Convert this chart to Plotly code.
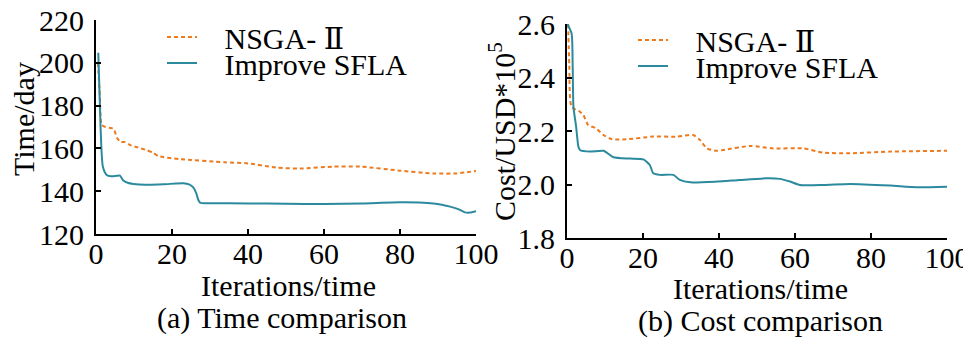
import plotly.graph_objects as go

# ---------------- data ----------------
time_nsga_x = [0.5, 1.0, 1.5, 2.5, 4.0, 4.7, 5.5, 6.5, 7.6, 9, 11, 13.3, 15, 16.4, 22, 34,
               40, 47.5, 53.7, 62.5, 69.5, 80, 88.8, 95, 100]
time_nsga = [200, 185, 171, 170, 169.5, 169, 165, 163, 163, 161.5, 160.5, 159.2, 158, 156.4, 155, 153.5,
             153, 151, 150.6, 151.5, 151.5, 149.6, 148.3, 148.3, 149.5]

time_sfla_x = [0.6, 1.2, 1.8, 2.8, 4, 5.4, 6.3, 7.2, 8.5, 9.8, 13, 17.7, 21, 23, 24.5, 25.6, 26.4,
               26.9, 27.5, 30, 40, 50, 60, 70, 80, 85, 88.8, 91, 93.2, 95.5, 97.1, 98.4, 100]
time_sfla = [204.7, 170, 151.5, 147.6, 147, 147.2, 147.3, 145, 143.8, 143.4, 143, 143.2, 143.6, 143.7,
             143.2, 141.8, 139, 136, 134.5, 134.4, 134.3, 134.1, 134, 134.3, 134.8, 134.7, 134.3, 133.7,
             132.8, 131.5, 130.1, 130, 130.7]

cost_nsga_x = [0.3, 0.6, 1.2, 3.4, 4.3, 5.6, 7.4, 9.6, 11.8, 15.7, 22.7, 28.9, 33.2, 35, 36.8, 39.4,
               41.1, 48.2, 54.3, 62.2, 67.4, 74.5, 85, 100]
cost_nsga = [2.6, 2.45, 2.291, 2.272, 2.26, 2.222, 2.212, 2.185, 2.169, 2.169, 2.179, 2.179, 2.185,
             2.166, 2.135, 2.126, 2.129, 2.144, 2.135, 2.135, 2.119, 2.117, 2.123, 2.126]

cost_sfla_x = [0.1, 1.2, 1.5, 1.7, 2.4, 3.0, 3.4, 6.1, 9.6, 12.2, 16.6, 20.1, 21.8, 22.7, 24.5, 28,
               29.7, 32.4, 39.4, 45.5, 52.5, 56, 58.7, 61.3, 67.5, 74.5, 85, 92, 100]
cost_sfla = [2.6, 2.565, 2.44, 2.29, 2.216, 2.141, 2.129, 2.123, 2.126, 2.102, 2.097, 2.094, 2.073,
             2.042, 2.036, 2.036, 2.017, 2.008, 2.011, 2.017, 2.023, 2.021, 2.011, 1.998, 1.998, 2.002,
             1.996, 1.99, 1.992]

x_ticks = [0, 20, 40, 60, 80, 100]
time_ticks = [120, 140, 160, 180, 200, 220]
cost_ticks = [1.8, 2.0, 2.2, 2.4, 2.6]

name_nsga = "NSGA- Ⅱ"
name_sfla = "Improve SFLA"

# ---------------- styling ----------------
OFF = 8                      # the page body has an 8px margin
W, H = 971 - OFF, 341 - OFF  # figure size so that it ends at the window edge
FONT = "Liberation Serif, Times New Roman, DejaVu Serif, serif"
FS = 30
ORANGE = "#EE7A1E"
TEAL = "#2B8A9E"
PAD = "\u00a0\u00a0\u00a0"


def px_x(p):
    """window pixel x -> paper fraction"""
    return (p - OFF) / W


def px_y(p):
    """window pixel y (from top) -> paper fraction"""
    return 1 - (p - OFF) / H


fig = go.Figure()

fig.add_trace(go.Scatter(x=time_nsga_x, y=time_nsga, mode="lines", name=PAD + name_nsga,
                         line=dict(color=ORANGE, width=2, dash="4px,3px", shape="spline", smoothing=0.6),
                         xaxis="x", yaxis="y", legend="legend", showlegend=True))
fig.add_trace(go.Scatter(x=time_sfla_x, y=time_sfla, mode="lines", name=PAD + name_sfla,
                         line=dict(color=TEAL, width=2, shape="spline", smoothing=0.6),
                         xaxis="x", yaxis="y", legend="legend2", showlegend=True))
fig.add_trace(go.Scatter(x=cost_nsga_x, y=cost_nsga, mode="lines", name=PAD + name_nsga,
                         line=dict(color=ORANGE, width=2, dash="4px,3px", shape="spline", smoothing=0.6),
                         xaxis="x2", yaxis="y2", legend="legend3", showlegend=True))
fig.add_trace(go.Scatter(x=cost_sfla_x, y=cost_sfla, mode="lines", name=PAD + name_sfla,
                         line=dict(color=TEAL, width=2, shape="spline", smoothing=0.6),
                         xaxis="x2", yaxis="y2", legend="legend4", showlegend=True))

axis_common = dict(showline=True, linecolor="black", linewidth=2, ticks="inside", ticklen=5,
                   tickwidth=2, tickcolor="black", showgrid=False, zeroline=False, automargin=False,
                   ticklabeloverflow="allow",
                   tickfont=dict(family=FONT, size=FS, color="black"), mirror=False)

fig.update_layout(
    template="none",
    width=W, height=H,
    margin=dict(l=0, r=0, t=0, b=0, autoexpand=False),
    paper_bgcolor="white", plot_bgcolor="white",
    showlegend=True,
    font=dict(family=FONT, size=FS, color="black"),
    xaxis=dict(domain=[px_x(96), px_x(476)], range=[0, 100], tickvals=x_ticks, anchor="y",
               ticklabelstandoff=-8, **axis_common),
    yaxis=dict(domain=[px_y(234), px_y(20)], range=[120, 220], tickvals=time_ticks, anchor="x",
               ticklabelstandoff=4, **axis_common),
    xaxis2=dict(domain=[px_x(567), px_x(947)], range=[0, 100], tickvals=x_ticks, anchor="y2",
                ticklabelstandoff=-8, **axis_common),
    yaxis2=dict(domain=[px_y(238), px_y(24)], range=[1.8, 2.6], tickvals=cost_ticks,
                tickformat=".1f", anchor="x2", ticklabelstandoff=4, **axis_common),
)

leg_common = dict(bgcolor="rgba(0,0,0,0)", borderwidth=0, xanchor="left", yanchor="middle",
                  visible=True, font=dict(family=FONT, size=FS, color="black"), itemclick=False)
fig.update_layout(
    legend=dict(x=px_x(162), y=px_y(37), **leg_common),
    legend2=dict(x=px_x(162), y=px_y(63), **leg_common),
    legend3=dict(x=px_x(633), y=px_y(40), **leg_common),
    legend4=dict(x=px_x(633), y=px_y(66), **leg_common),
)

ann_font = dict(family=FONT, size=FS, color="black")
annotations = [
    dict(text="Time/day", x=px_x(24), y=px_y(119), textangle=-90),
    dict(text="Cost/USD*10<sup>5</sup>", x=px_x(502), y=px_y(132), textangle=-90),
    dict(text="Iterations/time", x=px_x(288), y=px_y(285)),
    dict(text="Iterations/time", x=px_x(760), y=px_y(288)),
    dict(text="(a) Time comparison", x=px_x(282), y=px_y(318)),
    dict(text="(b) Cost comparison", x=px_x(760), y=px_y(321)),
]
for a in annotations:
    fig.add_annotation(xref="paper", yref="paper", showarrow=False, font=ann_font,
                       xanchor="center", yanchor="middle", **a)

fig.write_html("out.html")
